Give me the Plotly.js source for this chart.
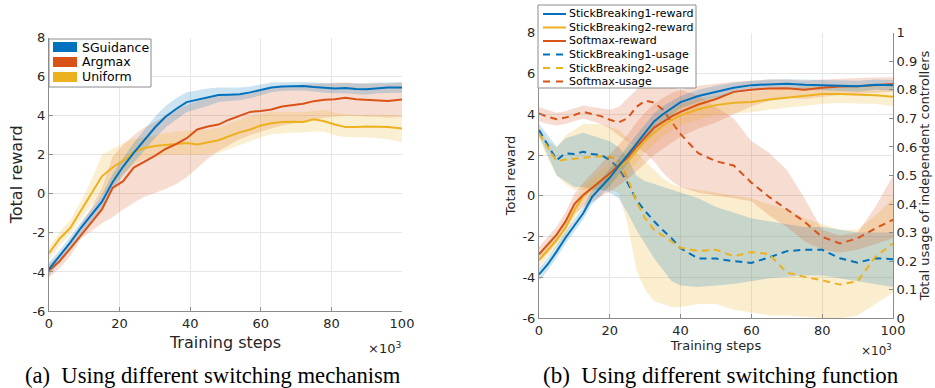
<!DOCTYPE html>
<html><head><meta charset="utf-8">
<script src="https://cdn.plot.ly/plotly-3.0.1.min.js"></script>
<style>html,body{margin:0;padding:0;background:#fff}#chart{width:935px;height:388px}</style>
</head><body><div id="chart"></div>
<script>
// ---------------- data: (a) switching mechanism ----------------
const stepsA = [0,3,6,9,12,15,18,21,24,27,30,33,36,39,42,45,48,51,54,57,60,63,66,69,72,75,78,81,84,87,90,93,96,100];
const sgMean  = [-3.85,-3.2,-2.5,-1.75,-1.1,-0.4,0.6,1.4,2.1,2.75,3.4,3.95,4.35,4.7,4.82,4.95,5.07,5.08,5.1,5.2,5.33,5.45,5.5,5.5,5.52,5.47,5.42,5.4,5.42,5.37,5.36,5.42,5.45,5.45];
const sgUpper = [-3.5,-2.9,-2.2,-1.45,-0.8,-0.05,1.0,1.85,2.6,3.3,3.95,4.5,4.9,5.2,5.3,5.4,5.45,5.45,5.45,5.5,5.6,5.7,5.72,5.72,5.74,5.7,5.66,5.65,5.68,5.65,5.65,5.7,5.72,5.72];
const sgLower = [-4.2,-3.5,-2.8,-2.05,-1.4,-0.75,0.2,0.95,1.6,2.2,2.85,3.4,3.8,4.2,4.35,4.5,4.7,4.75,4.8,4.9,5.05,5.2,5.27,5.28,5.3,5.24,5.18,5.15,5.16,5.1,5.08,5.15,5.18,5.18];
const amMean  = [-3.93,-3.45,-2.8,-2.15,-1.5,-0.8,0.3,0.65,1.35,1.65,1.95,2.3,2.55,2.85,3.3,3.45,3.55,3.8,4.0,4.2,4.25,4.32,4.48,4.55,4.62,4.75,4.82,4.85,4.92,4.85,4.82,4.8,4.76,4.84];
const amUpper = [-3.6,-3.1,-2.4,-1.6,-0.7,0.3,1.9,2.5,3.0,3.4,3.7,4.0,4.3,4.55,4.75,4.9,5.0,5.05,5.1,5.2,5.3,5.4,5.5,5.55,5.6,5.65,5.65,5.7,5.7,5.65,5.65,5.65,5.65,5.7];
const amLower = [-4.3,-3.8,-3.2,-2.3,-1.9,-1.5,-1.2,-0.8,-0.45,-0.15,0.05,0.25,0.5,0.85,1.3,1.8,2.2,2.5,2.8,3.0,3.2,3.35,3.5,3.6,3.7,3.8,3.9,3.95,4.0,4.0,3.95,3.95,3.9,3.95];
const unMean  = [-3.04,-2.3,-1.75,-0.85,0.0,0.9,1.35,1.7,2.15,2.35,2.45,2.5,2.55,2.6,2.53,2.65,2.75,2.95,3.15,3.3,3.5,3.62,3.68,3.7,3.68,3.82,3.72,3.55,3.42,3.42,3.45,3.44,3.42,3.35];
const unUpper = [-2.75,-1.95,-1.35,-0.4,0.7,2.0,2.3,2.6,2.8,2.9,3.0,3.1,3.2,3.25,3.25,3.3,3.4,3.6,3.8,4.0,4.1,4.2,4.2,4.2,4.2,4.25,4.3,4.15,4.1,4.05,4.05,4.05,4.05,4.0];
const unLower = [-3.35,-2.65,-2.1,-1.3,-0.6,-0.1,0.4,1.0,1.5,1.8,1.9,2.0,2.0,2.0,2.0,2.05,2.1,2.3,2.5,2.7,2.9,3.05,3.1,3.15,3.15,3.2,3.2,3.0,2.9,2.9,2.9,2.85,2.8,2.65];
const namesA = ['SGuidance','Argmax','Uniform'];

// ---------------- data: (b) switching function ----------------
const stepsB = [0,2.5,5,7.5,10,12.5,15,17.5,20,22.5,25,27.5,30,32.5,35,37.5,40,45,50,55,60,65,70,75,80,85,90,95,100];
const sb1RewMean  = [-3.85,-3.35,-2.72,-2.05,-1.45,-0.85,-0.05,0.4,0.9,1.45,2.0,2.55,3.1,3.65,4.0,4.3,4.6,4.9,5.1,5.3,5.43,5.48,5.5,5.45,5.43,5.4,5.38,5.45,5.42];
const sb1RewUpper = [-3.55,-3.05,-2.42,-1.75,-1.15,-0.55,0.3,0.8,1.3,1.85,2.45,3.0,3.55,4.05,4.4,4.65,4.9,5.2,5.4,5.55,5.65,5.7,5.72,5.7,5.68,5.65,5.65,5.7,5.68];
const sb1RewLower = [-4.15,-3.65,-3.02,-2.35,-1.75,-1.15,-0.4,0.0,0.5,1.05,1.55,2.1,2.65,3.2,3.6,3.95,4.3,4.6,4.8,5.05,5.2,5.26,5.28,5.2,5.18,5.15,5.1,5.2,5.16];
const sb2RewMean  = [-3.15,-2.65,-2.15,-1.55,-0.7,0.0,0.4,0.77,1.0,1.38,1.7,2.2,2.7,3.1,3.45,3.72,3.95,4.25,4.45,4.57,4.6,4.72,4.82,4.92,5.0,5.0,4.98,4.93,4.86];
const sb2RewUpper = [-2.8,-2.3,-1.8,-1.15,-0.3,0.45,0.85,1.25,1.5,1.9,2.25,2.75,3.25,3.65,4.0,4.25,4.45,4.75,4.95,5.05,5.1,5.2,5.3,5.38,5.45,5.45,5.43,5.4,5.35];
const sb2RewLower = [-3.5,-3.0,-2.5,-1.95,-1.1,-0.45,-0.05,0.3,0.5,0.85,1.15,1.65,2.15,2.55,2.9,3.2,3.45,3.75,3.95,4.05,4.1,4.22,4.32,4.42,4.5,4.55,4.53,4.5,4.4];
const smRewMean  = [-2.86,-2.4,-1.9,-1.25,-0.4,0.05,0.4,0.77,1.1,1.5,1.88,2.4,2.9,3.35,3.62,3.9,4.12,4.48,4.75,5.1,5.2,5.27,5.28,5.2,5.3,5.36,5.38,5.42,5.48];
const smRewUpper = [-2.5,-2.0,-1.5,-0.8,0.1,0.65,1.1,1.6,2.0,2.5,3.0,3.6,4.1,4.5,4.8,5.05,5.2,5.4,5.5,5.6,5.65,5.7,5.7,5.65,5.7,5.75,5.78,5.8,5.82];
const smRewLower = [-3.2,-2.8,-2.3,-1.7,-0.9,-0.55,-0.3,0.0,0.2,0.5,0.8,1.2,1.6,2.0,2.3,2.6,2.9,3.3,3.6,4.0,4.4,4.65,4.8,4.75,4.85,4.95,5.0,5.05,5.1];
const sb1UseMean  = [0.659,0.607,0.554,0.578,0.575,0.583,0.575,0.572,0.554,0.525,0.475,0.415,0.375,0.34,0.308,0.28,0.245,0.209,0.209,0.2,0.194,0.213,0.235,0.24,0.24,0.21,0.195,0.21,0.207];
const sb1UseUpper = [0.68,0.64,0.6,0.63,0.64,0.65,0.64,0.63,0.62,0.6,0.56,0.5,0.48,0.47,0.46,0.45,0.44,0.42,0.39,0.37,0.35,0.34,0.33,0.32,0.32,0.31,0.3,0.3,0.3];
const sb1UseLower = [0.64,0.57,0.5,0.48,0.46,0.46,0.45,0.45,0.44,0.42,0.37,0.31,0.26,0.21,0.17,0.13,0.115,0.11,0.115,0.12,0.13,0.14,0.145,0.15,0.15,0.14,0.13,0.12,0.11];
const sb2UseMean  = [0.647,0.6,0.55,0.556,0.558,0.562,0.565,0.567,0.565,0.555,0.49,0.41,0.35,0.31,0.29,0.27,0.247,0.236,0.24,0.217,0.232,0.225,0.16,0.145,0.133,0.118,0.13,0.215,0.262];
const sb2UseUpper = [0.66,0.62,0.6,0.64,0.66,0.68,0.68,0.68,0.67,0.66,0.63,0.58,0.55,0.52,0.49,0.47,0.46,0.45,0.44,0.43,0.42,0.4,0.38,0.35,0.33,0.31,0.31,0.36,0.42];
const sb2UseLower = [0.63,0.56,0.5,0.47,0.45,0.45,0.45,0.45,0.45,0.44,0.33,0.17,0.1,0.06,0.05,0.04,0.04,0.05,0.05,0.03,0.02,0.01,0.01,0.005,0,0,0.01,0.05,0.09];
const smUseMean  = [0.717,0.705,0.697,0.703,0.712,0.723,0.715,0.708,0.695,0.686,0.7,0.74,0.762,0.755,0.73,0.687,0.645,0.578,0.55,0.535,0.475,0.425,0.38,0.338,0.285,0.262,0.28,0.315,0.345];
const smUseUpper = [0.74,0.73,0.72,0.725,0.735,0.745,0.74,0.735,0.73,0.74,0.77,0.8,0.83,0.83,0.82,0.81,0.8,0.78,0.74,0.7,0.62,0.58,0.52,0.42,0.31,0.29,0.3,0.39,0.5];
const smUseLower = [0.69,0.68,0.675,0.68,0.69,0.7,0.69,0.68,0.665,0.64,0.62,0.6,0.58,0.55,0.51,0.48,0.46,0.44,0.43,0.42,0.41,0.36,0.32,0.27,0.24,0.23,0.24,0.26,0.28];
const namesB = ['StickBreaking1-reward','StickBreaking2-reward','Softmax-reward','StickBreaking1-usage','StickBreaking2-usage','Softmax-usage'];

const xTicks = [0,20,40,60,80,100];
const rewardTicks = [-6,-4,-2,0,2,4,6,8];
const rewardTickText = ['-6','-4','-2','0','2','4','6','8'];
const usageTicks = [0,0.1,0.2,0.3,0.4,0.5,0.6,0.7,0.8,0.9,1];
const usageTickText = ['0','0.1','0.2','0.3','0.4','0.5','0.6','0.7','0.8','0.9','1'];

// ---------------- styling ----------------
const BLUE='#0072BD', ORANGE='#D95319', YELLOW='#EDB120';
const rgba = (hex,a) => 'rgba('+parseInt(hex.slice(1,3),16)+','+parseInt(hex.slice(3,5),16)+','+parseInt(hex.slice(5,7),16)+','+a+')';
const F = 'DejaVu Sans';
const W = 935, H = 388;
const PX = v => v / W, PY = v => 1 - v / H;

function band(xs, up, lo, color, a, xa, ya) {
  return {type:'scatter', mode:'lines', x: xs.concat(xs.slice().reverse()), y: up.concat(lo.slice().reverse()),
    fill:'toself', fillcolor: rgba(color,a), line:{width:0, color:'rgba(0,0,0,0)'}, hoverinfo:'skip', showlegend:false, xaxis:xa, yaxis:ya};
}
function line(xs, ys, color, name, xa, ya, dash) {
  return {type:'scatter', mode:'lines', x: xs, y: ys, name: name, line:{color: color, width:2, dash: dash || 'solid'}, showlegend:false, xaxis:xa, yaxis:ya};
}

const traces = [
  band(stepsA, amUpper, amLower, ORANGE, 0.2, 'x', 'y'),
  band(stepsA, unUpper, unLower, YELLOW, 0.2, 'x', 'y'),
  band(stepsA, sgUpper, sgLower, BLUE, 0.2, 'x', 'y'),
  line(stepsA, unMean, YELLOW, namesA[2], 'x', 'y'),
  line(stepsA, amMean, ORANGE, namesA[1], 'x', 'y'),
  line(stepsA, sgMean, BLUE, namesA[0], 'x', 'y'),
  // (b) usage on y2 (base, right side)
  band(stepsB, sb2UseUpper, sb2UseLower, YELLOW, 0.22, 'x2', 'y2'),
  band(stepsB, sb1UseUpper, sb1UseLower, BLUE, 0.2, 'x2', 'y2'),
  band(stepsB, smUseUpper, smUseLower, ORANGE, 0.2, 'x2', 'y2'),
  line(stepsB, sb1UseMean, BLUE, namesB[3], 'x2', 'y2', '7px,5px'),
  line(stepsB, sb2UseMean, YELLOW, namesB[4], 'x2', 'y2', '7px,5px'),
  line(stepsB, smUseMean, ORANGE, namesB[5], 'x2', 'y2', '7px,5px'),
  // (b) reward on y3 (overlay, left side)
  band(stepsB, smRewUpper, smRewLower, ORANGE, 0.2, 'x2', 'y3'),
  band(stepsB, sb2RewUpper, sb2RewLower, YELLOW, 0.2, 'x2', 'y3'),
  band(stepsB, sb1RewUpper, sb1RewLower, BLUE, 0.2, 'x2', 'y3'),
  line(stepsB, sb2RewMean, YELLOW, namesB[1], 'x2', 'y3'),
  line(stepsB, smRewMean, ORANGE, namesB[2], 'x2', 'y3'),
  line(stepsB, sb1RewMean, BLUE, namesB[0], 'x2', 'y3')
];

const axBase = {showline:true, linecolor:'#8c8c8c', linewidth:1, ticks:'inside', ticklen:4, tickcolor:'#8c8c8c',
  tickfont:{family:F, size:13, color:'#262626'}, showgrid:true, gridcolor:'#e6e6e6', gridwidth:1, zeroline:false, fixedrange:true};

const layout = {
  width:W, height:H, margin:{l:0,r:0,t:0,b:0}, paper_bgcolor:'#fff', plot_bgcolor:'rgba(0,0,0,0)',
  showlegend:false, font:{family:F, color:'#262626'},
  xaxis: Object.assign({}, axBase, {domain:[PX(49),PX(402)], range:[0,100], tickvals:xTicks, anchor:'y',
    title:{text:'Training steps', font:{family:F,size:16,color:'#262626'}, standoff:7}}),
  yaxis: Object.assign({}, axBase, {domain:[PY(311),PY(37.7)], range:[-6,8], tickvals:rewardTicks, ticktext:rewardTickText, anchor:'x',
    title:{text:'Total reward', font:{family:F,size:16,color:'#262626'}, standoff:5}}),
  xaxis2: Object.assign({}, axBase, {domain:[PX(539),PX(893)], range:[0,100], tickvals:xTicks, anchor:'y2',
    title:{text:'Training steps', font:{family:F,size:13,color:'#262626'}, standoff:3}}),
  yaxis2: Object.assign({}, axBase, {domain:[PY(318.3),PY(32.7)], range:[0,1], tickvals:usageTicks, ticktext:usageTickText, anchor:'x2', side:'right', showgrid:false,
    title:{text:'Total usage of independent controllers', font:{family:F,size:13,color:'#262626'}, standoff:3}}),
  yaxis3: Object.assign({}, axBase, {range:[-6,8], tickvals:rewardTicks, ticktext:rewardTickText, anchor:'x2', overlaying:'y2', side:'left',
    title:{text:'Total reward', font:{family:F,size:13,color:'#262626'}, standoff:3}}),
  shapes: [], annotations: []
};

// legend (a): patches
const colorsA = [BLUE, ORANGE, YELLOW];
layout.shapes.push({type:'rect', xref:'paper', yref:'paper', x0:PX(49), x1:PX(151), y0:PY(87), y1:PY(39), fillcolor:'#fff', line:{color:'#8c8c8c', width:1}, layer:'above'});
namesA.forEach((n,i) => {
  const cy = 47 + i*15;
  layout.shapes.push({type:'rect', xref:'paper', yref:'paper', x0:PX(53), x1:PX(77), y0:PY(cy+5), y1:PY(cy-5), fillcolor:colorsA[i], line:{width:0}, layer:'above'});
  layout.annotations.push({xref:'paper', yref:'paper', x:PX(80), y:PY(cy), xanchor:'left', yanchor:'middle', text:n, showarrow:false, font:{family:F, size:12.5, color:'#000'}});
});
// legend (b): lines
const colorsB = [BLUE, YELLOW, ORANGE, BLUE, YELLOW, ORANGE];
const dashB = ['solid','solid','solid','dash','dash','dash'];
layout.shapes.push({type:'rect', xref:'paper', yref:'paper', x0:PX(538), x1:PX(696), y0:PY(88), y1:PY(5), fillcolor:'#fff', line:{color:'#8c8c8c', width:1}, layer:'above'});
namesB.forEach((n,i) => {
  const cy = 14 + i*13.5;
  layout.shapes.push({type:'line', xref:'paper', yref:'paper', x0:PX(543), x1:PX(566), y0:PY(cy), y1:PY(cy), line:{color:colorsB[i], width:2, dash: dashB[i]==='dash' ? '7px,6px' : 'solid'}, layer:'above'});
  layout.annotations.push({xref:'paper', yref:'paper', x:PX(567), y:PY(cy), xanchor:'left', yanchor:'middle', text:n, showarrow:false, font:{family:F, size:11, color:'#000'}});
});
// x10^3 exponents
layout.annotations.push({xref:'paper', yref:'paper', x:PX(403), y:PY(348), xanchor:'right', yanchor:'middle', text:'×10<sup>3</sup>', showarrow:false, font:{family:F, size:13, color:'#262626'}});
layout.annotations.push({xref:'paper', yref:'paper', x:PX(894), y:PY(350), xanchor:'right', yanchor:'middle', text:'×10<sup>3</sup>', showarrow:false, font:{family:F, size:12, color:'#262626'}});
// captions
layout.annotations.push({xref:'paper', yref:'paper', x:PX(213), y:PY(375), xanchor:'center', yanchor:'middle', text:'(a)  Using different switching mechanism', showarrow:false, font:{family:'Liberation Serif', size:22.6, color:'#000'}});
layout.annotations.push({xref:'paper', yref:'paper', x:PX(721), y:PY(375), xanchor:'center', yanchor:'middle', text:'(b)  Using different switching function', showarrow:false, font:{family:'Liberation Serif', size:23, color:'#000'}});

Plotly.newPlot('chart', traces, layout, {displayModeBar:false, staticPlot:true});
</script></body></html>
